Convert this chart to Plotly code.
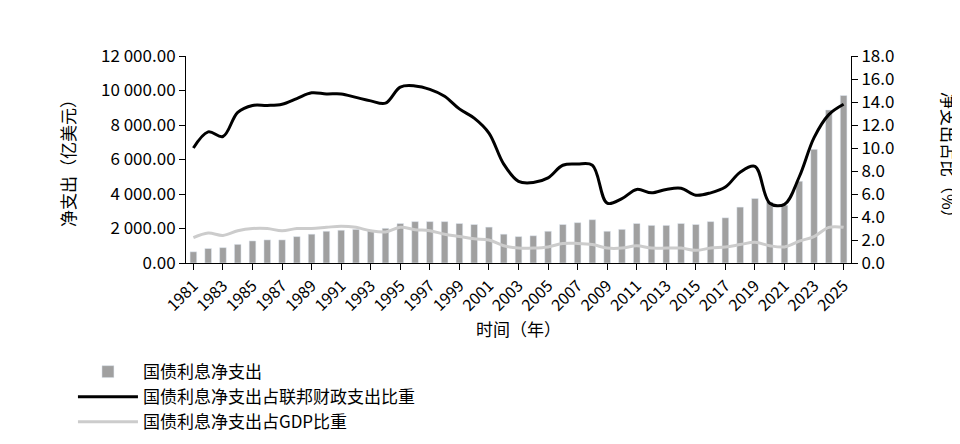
import plotly.graph_objects as go

years = list(range(1981, 2026))
net_outlays = [650, 840, 890, 1080, 1280, 1340, 1340, 1530, 1670, 1840, 1900, 1950, 1860, 2010,
               2290, 2400, 2400, 2400, 2290, 2230, 2080, 1670, 1530, 1580, 1840, 2230, 2340, 2510,
               1840, 1950, 2290, 2180, 2180, 2290, 2230, 2400, 2620, 3240, 3740, 3530, 3350, 4740,
               6590, 8870, 9710]
share_federal = [10.0, 11.4, 11.0, 13.1, 13.7, 13.7, 13.8, 14.3, 14.8, 14.7, 14.7, 14.4, 14.1, 13.9,
                 15.3, 15.4, 15.1, 14.5, 13.4, 12.6, 11.3, 8.6, 7.1, 7.0, 7.4, 8.5, 8.6, 8.5,
                 5.2, 5.6, 6.4, 6.1, 6.4, 6.5, 5.9, 6.1, 6.6, 7.9, 8.4, 5.2, 5.1, 7.5,
                 10.9, 12.9, 13.8]
share_gdp = [2.2, 2.6, 2.4, 2.8, 3.0, 3.0, 2.8, 3.0, 3.0, 3.1, 3.2, 3.1, 2.8, 2.7,
             3.1, 2.9, 2.8, 2.5, 2.3, 2.1, 2.0, 1.5, 1.3, 1.3, 1.4, 1.7, 1.7, 1.6,
             1.3, 1.3, 1.5, 1.3, 1.3, 1.3, 1.1, 1.3, 1.4, 1.6, 1.8, 1.5, 1.4, 1.9,
             2.3, 3.1, 3.1]

left_ticks = [0, 2000, 4000, 6000, 8000, 10000, 12000]
left_labels = ["0.00", "2 000.00", "4 000.00", "6 000.00", "8 000.00", "10 000.00", "12 000.00"]
year_labels = [str(y) for y in range(1981, 2026, 2)]

font = "Noto Sans CJK SC"

fig = go.Figure()
fig.add_trace(go.Bar(x=years, y=net_outlays, name="国债利息净支出",
                     marker=dict(color="#a0a0a0"), width=0.45, yaxis="y"))
fig.add_trace(go.Scatter(x=years, y=share_federal, name="国债利息净支出占联邦财政支出比重",
                         mode="lines", line=dict(color="black", width=3, shape="spline"),
                         yaxis="y2"))
fig.add_trace(go.Scatter(x=years, y=share_gdp, name="国债利息净支出占GDP比重",
                         mode="lines", line=dict(color="#cccccc", width=3, shape="spline"),
                         yaxis="y2"))

fig.update_layout(
    width=960, height=444,
    plot_bgcolor="white", paper_bgcolor="white",
    font=dict(family=font, size=17, color="black"),
    margin=dict(l=178, r=117, t=48, b=166),
    xaxis=dict(tickmode="array", tickvals=list(range(1981, 2026, 2)), ticktext=year_labels,
               tickangle=-45, range=[1980.5, 2025.5], showline=True, linecolor="black",
               ticks="outside", ticklen=6, tickcolor="black", showgrid=False,
               tickfont=dict(size=16),
               title=dict(text="时间（年）", font=dict(size=17), standoff=8)),
    yaxis=dict(range=[0, 12000], tickvals=left_ticks, ticktext=left_labels,
               showline=True, linecolor="black", ticks="outside", ticklen=6,
               tickcolor="black", showgrid=False, zeroline=False, tickfont=dict(size=17)),
    yaxis2=dict(range=[0, 18], overlaying="y", side="right", dtick=2, tickformat=".1f",
                showline=True, linecolor="black", ticks="outside", ticklen=6,
                tickcolor="black", showgrid=False, zeroline=False, tickfont=dict(size=17)),
    legend=dict(orientation="h", x=-0.17, y=-0.44, xanchor="left", yanchor="top",
                entrywidth=375, entrywidthmode="pixels", font=dict(size=17),
                traceorder="normal", itemwidth=60),
    annotations=[
        dict(text="净支出（亿美元）", textangle=-90, x=-0.2, y=0.5, xref="paper", yref="paper",
             showarrow=False, font=dict(size=17)),
        dict(text="净支出占比（%）", textangle=90, x=1.17, y=0.5, xref="paper", yref="paper",
             showarrow=False, font=dict(size=17)),
    ],
)

fig.write_html("out.html")
